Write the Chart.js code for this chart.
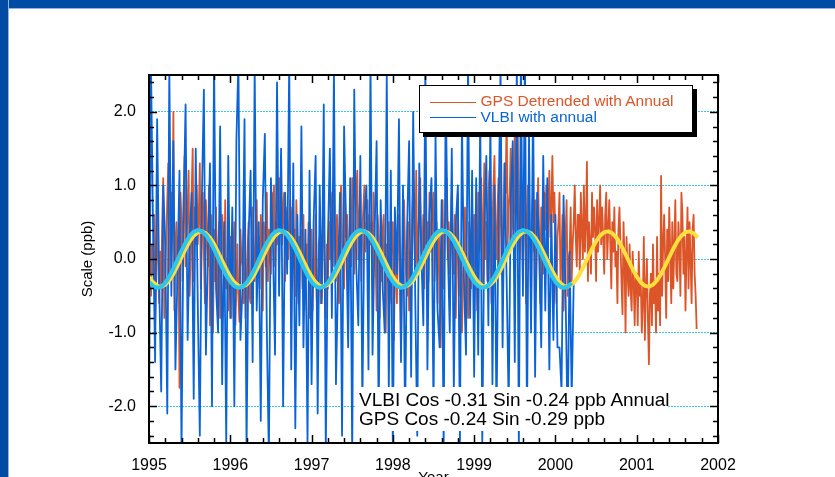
<!DOCTYPE html>
<html lang="en">
<head>
<meta charset="UTF-8">
<title>Scale (ppb)</title>
<script src="https://cdn.jsdelivr.net/npm/chart.js"></script>
<style>
    html, body {
        margin: 0;
        padding: 0;
        background: #fff;
        overflow: hidden;
    }
    body {
        width: 835px;
        height: 477px;
        position: relative;
        font-family: "Liberation Sans", Arial, Helvetica, sans-serif;
    }
    #chart {
        position: absolute;
        left: 0;
        top: 0;
    }
    .band-top {
        position: absolute; left: 0; top: 0;
        width: 835px; height: 8px;
        background: #004ba3;
        border-bottom: 1px solid #8fb5e6;
    }
    .band-left {
        position: absolute; left: 0; top: 0;
        width: 8px; height: 477px;
        background: #004ba3;
        border-right: 1px solid #8fb5e6;
    }
    .legend {
        position: absolute;
        left: 419px; top: 85px;
        width: 274px; height: 48px;
        box-sizing: border-box;
        border: 1.5px solid #000;
        box-shadow: 4px 4px 0 #000;
        background: #fff;
    }
    .legend .swatch {
        position: absolute;
        left: 9.5px;
        width: 46px;
        height: 1.5px;
    }
    .legend .label {
        position: absolute;
        left: 60.5px;
        font-size: 15.5px;
        line-height: 17px;
        white-space: nowrap;
    }
    .note {
        position: absolute;
        left: 355px; top: 387px;
        width: 313px; height: 44px;
        box-sizing: border-box;
        padding: 3px 0 0 4px;
        background: #fff;
        font-size: 19px;
        line-height: 19px;
        color: #000;
        white-space: nowrap;
    }
</style>
</head>
<body>
<canvas id="chart" width="835" height="495"></canvas>
<div class="band-top"></div>
<div class="band-left"></div>
<div class="legend">
    <div class="swatch" id="gpsSwatch" style="top:15.5px"></div>
    <div class="label" id="gpsLabel" style="top:5.5px"></div>
    <div class="swatch" id="vlbiSwatch" style="top:30.5px"></div>
    <div class="label" id="vlbiLabel" style="top:21.5px"></div>
</div>
<div class="note" id="note"></div>

<script>
const startYear = 1995.0;
const gpsStep = 0.0125;   // yr between GPS values
const vlbiStep = 0.025;   // yr between VLBI sessions

// GPS detrended scale (ppb), 1995.0 .. 2001.7375 (one row = a quarter year)
const gpsScale = [
    0.9, 0.3, -0.5, 0.2, -0.2, 0.6, -0.9, -0.3, 0.7, 0.1, -0.6, 0.1, -0.4, 0.5, 1.1, -0.8, -0.2, 0.3, 0.8, 1.3,
    -0.2, 0.6, 0.9, 0.4, 2.0, -0.7, 0.2, 0.5, -0.4, 0.3, -1.75, 0.9, 0.5, -0.3, 0.8, 1.4, -0.1, 0.3, 0.6, 1.2,
    -0.5, 0.1, 0.9, 1.5, -0.3, 0.7, 0.2, 1.0, 0.2, 0.6, 1.3, -0.4, 0.4, 0.9, 0.1, -0.6, 0.8, 0.3, -0.1, 1.0,
    -0.9, 0.6, 0.2, -1.0, 0.4, -0.3, 0.7, -0.6, 0.1, 0.5, -0.8, -0.2, 0.6, 0.3, -0.5, 0.8, -0.4, 0.0, -0.7, 0.2,
    // 1996
    0.3, -0.8, -0.2, 0.1, 0.5, -0.9, -0.4, 0.2, -0.5, -0.85, 0.4, 0.0, -0.1, -0.6, 0.6, -0.8, -0.3, 0.1, 0.5, -0.5,
    -0.6, 0.2, 0.7, 0.0, -0.3, 0.4, 0.8, -0.2, 0.3, -0.4, 0.6, 0.1, -0.7, 0.5, 0.2, -0.1, 0.9, -0.3, 0.4, 0.0,
    -0.2, 0.9, 0.3, 1.0, -0.1, 0.5, 0.2, 0.8, 1.1, 0.4, 1.4, 0.2, 0.7, 0.9, -0.3, 0.5, 0.7, 0.0, 0.4, 0.8,
    -0.3, 0.7, 0.1, 0.4, -0.5, 0.8, 0.2, -0.6, 0.3, 0.1, 0.4, -0.4, 0.6, -0.7, -0.1, 0.2, -0.2, 0.5, -0.8, 0.1,
    // 1997
    0.4, -0.7, 0.0, -0.3, 0.6, -0.5, -1.0, 0.2, 0.3, -0.6, -0.5, 0.4, 0.7, -0.2, -0.8, 0.2, -0.4, 0.5, 0.0, 0.9,
    0.4, -0.1, 1.3, 0.2, -0.3, 0.6, 0.1, -0.6, 0.5, 1.0, 0.2, -0.2, -0.4, 0.8, 0.3, 0.6, -0.5, 0.1, 0.7, -0.1,
    1.1, 0.3, -0.2, 0.5, 0.9, 1.2, 0.0, 0.6, 0.9, -0.3, 0.4, 0.7, 1.0, 0.1, 0.3, 0.8, -0.2, 0.6, 0.2, 0.5,
    -0.4, 0.9, 0.2, 0.0, -0.7, 0.6, 0.3, -0.8, 0.1, -0.3, 0.4, 0.6, -0.5, -1.0, 0.2, -0.3, 0.5, -0.6, -0.1, 0.3,
    // 1998
    0.5, -1.1, -0.2, 0.2, -0.6, 0.4, 0.6, -0.4, -1.2, -0.3, 0.3, 0.8, 0.1, -0.2, -0.5, 0.5, -0.7, 0.1, -0.3, 0.6,
    1.0, 0.4, -0.1, 1.2, -0.2, 0.3, 0.7, 1.1, -0.1, 0.2, 0.6, -0.4, 1.3, 0.2, 0.5, -0.3, 0.9, 0.1, 0.4, 0.7,
    0.9, -0.3, 0.2, 0.5, -0.6, 0.4, 0.1, -1.2, -0.2, 0.8, -0.4, 0.3, 0.6, 1.1, 0.0, 0.5, -0.2, 0.4, 0.9, 0.2,
    -0.2, 0.6, -0.8, 0.3, 0.9, -0.5, 0.1, 0.2, -1.0, -0.3, 0.4, 0.7, -0.6, 0.0, -0.8, 0.5, 0.2, -0.4, 0.6, -0.1,
    // 1999
    0.6, -0.2, 0.3, -0.7, 0.9, 0.1, 0.3, 1.1, -0.4, 0.5, 1.3, 0.0, 0.5, -0.3, 0.8, 1.2, 0.2, -0.6, 0.4, 1.0,
    1.4, 0.3, 0.0, 0.7, 1.1, -0.2, 1.6, 0.6, -0.3, 0.4, 1.3, 0.9, 2.0, 0.2, 0.7, 0.9, 1.5, 0.3, 1.1, 0.4,
    1.8, 0.6, 0.9, 1.66, 0.2, 0.0, 1.2, 0.5, -0.3, 0.8, 1.3, -0.6, 0.4, 1.0, 0.2, 0.4, -0.7, 0.6, 0.9, 0.1,
    0.8, -0.4, 0.5, 1.1, 0.2, -0.6, 0.7, 0.3, -0.2, 0.9, 0.4, 1.0, -0.1, 0.6, 1.2, 0.3, 0.7, 1.4, 0.5, 0.9,
    // 2000
    0.2, -0.6, 0.3, 0.5, 0.9, -0.4, 0.1, 0.6, -0.7, -0.2, 0.3, 0.8, -0.5, 0.0, 0.1, 0.7, -0.3, 0.2, 0.5, 1.0,
    0.3, -0.1, 0.6, 0.6, -0.2, 0.9, 0.4, 0.0, 1.0, 0.1, 0.5, 1.32, -0.3, 0.5, 0.2, -0.2, 0.9, 0.3, 0.7, 0.4,
    -0.3, 0.8, 0.1, 0.5, 1.0, 0.2, 0.7, 0.3, -0.2, 0.6, 0.9, 0.0, 0.4, 0.8, 0.2, -0.4, 0.5, 0.1, 0.7, -0.1,
    0.1, -0.6, 0.4, 0.7, 0.2, -0.3, -0.75, 0.5, 0.0, -1.0, 0.3, -0.2, -0.5, 0.2, -0.4, -0.7, 0.1, -0.3, -0.9, -0.2,
    // 2001
    -0.2, -0.9, 0.1, -0.5, -0.3, -1.0, -0.6, 0.3, -1.1, -0.4, 0.0, -0.8, -1.43, -0.5, -0.2, -0.9, 0.2, -0.6, -0.3, -1.0,
    0.3, -0.7, -0.2, -0.9, 1.13, -0.5, 0.2, 0.6, 0.0, -0.8, 0.4, -0.3, 0.7, 0.1, -0.6, 0.5, -0.4, 0.2, 0.8, -0.2,
    -0.3, 0.5, 0.2, -0.5, 0.9, 0.6, -0.2, 0.3, -0.7, 0.1, 0.7, -0.4, 0.5, 0.0, -0.6, 0.4, 0.6, -0.2, -0.5, -0.95
];

// VLBI scale (ppb), 1995.0 .. 2000.225 (one row = half a year)
const vlbiScale = [
    -2.3, 2.6, 0.4, -1.4, 1.9, -0.3, -1.8, 1.0, 0.2, -2.1, 2.6, -0.5, 1.6, -1.5, -0.2, 1.2, -2.6, 0.6, 2.1, -1.1,
    0.3, 0.9, -1.9, 1.5, -0.6, -2.4, 0.8, 2.3, -1.3, 0.1, 1.3, -2.0, 2.7, -0.4, -1.0, 1.8, -1.7, 0.5, -2.5, 1.4,
    -0.8, 0.7, -2.0, 1.6, 2.7, -1.1, -0.4, 1.9, -2.6, 0.3, 1.2, -1.4, 2.6, -0.7, 0.5, -2.2, 0.8, 1.7, -1.0, -2.7,
    1.1, 0.2, -1.3, 2.4, -0.5, 1.5, -2.0, 0.9, -0.2, 2.7, -1.5, 1.3, -2.3, 0.6, -0.9, 1.8, -1.2, 0.4, -2.5, 1.2,
    -1.7, 0.5, 1.4, -2.1, 1.0, -0.6, 2.1, -2.6, 0.2, 1.5, -0.8, 2.6, -1.7, -0.3, 0.9, -2.4, 1.8, 0.4, -1.2, 1.1,
    -2.7, 2.3, -0.1, -0.9, 1.4, -2.0, 0.6, 1.0, -1.5, 2.7, -1.3, 0.3, 1.6, -2.2, 0.8, -0.4, -1.0, 2.5, -1.8, 1.2,
    -2.6, 0.7, -0.2, 1.9, -1.4, 1.0, -2.3, 0.4, 1.6, -1.6, 2.0, -0.5, -2.4, 1.3, 0.1, -0.9, 2.6, -1.5, 0.6, 1.1,
    -2.1, 1.7, -0.7, -1.2, 0.8, -2.6, 2.3, 0.2, -1.0, 1.5, -1.8, 0.5, 1.0, -2.5, 1.9, -0.3, -1.3, 2.7, -0.8, 1.2,
    -1.6, 1.1, -1.3, 2.0, -2.5, 0.4, 1.4, -0.9, 1.9, -1.7, 1.0, -2.2, 0.6, 2.6, -1.2, 1.3, -0.3, -2.0, 0.8, 1.6,
    -1.4, 2.7, -2.6, 2.8, -0.5, 2.9, -2.3, 1.7, -1.0, 2.2, -1.6, 0.9, 0.2, -1.2, 1.4, -0.7, 1.1, -1.5, 0.6, -1.1,
    0.6, -1.2, -1.2, -1.8, 0.86, -0.5, -2.3, 0.1, -1.9, -0.3
];

// annual terms (ppb) as printed on the plot
const vlbiCos = -0.31, vlbiSin = -0.24;
const gpsCos = -0.24, gpsSin = -0.29;
const vlbiFitEnd = 2000.2;
const gpsFitEnd = 2001.75;
const fitStep = 0.05;

const gpsColor = '#dc5529';
const vlbiColor = '#0a64d8';
const gpsFitColor = '#ffdf3c';
const vlbiFitColor = '#2dc6ea';
const gpsName = 'GPS Detrended with Annual';
const vlbiName = 'VLBI with annual';

function toPoints(values, step) {
    return values.map((v, i) => ({ x: startYear + i * step, y: v }));
}

function annualCurve(c, s, endYear) {
    const pts = [];
    const n = Math.round((endYear - startYear) / fitStep);
    for (let i = 0; i <= n; i++) {
        const t = startYear + i * fitStep;
        const w = 2 * Math.PI * t;
        pts.push({ x: t, y: c * Math.cos(w) + s * Math.sin(w) });
    }
    return pts;
}

// legend + annotation
document.getElementById('gpsSwatch').style.background = gpsColor;
document.getElementById('vlbiSwatch').style.background = vlbiColor;
const gpsLabel = document.getElementById('gpsLabel');
gpsLabel.textContent = gpsName;
gpsLabel.style.color = gpsColor;
const vlbiLabel = document.getElementById('vlbiLabel');
vlbiLabel.textContent = vlbiName;
vlbiLabel.style.color = vlbiColor;
document.getElementById('note').innerHTML =
    'VLBI Cos ' + vlbiCos.toFixed(2) + ' Sin ' + vlbiSin.toFixed(2) + ' ppb Annual<br>' +
    'GPS Cos ' + gpsCos.toFixed(2) + ' Sin ' + gpsSin.toFixed(2) + ' ppb';

const isWhole = v => Math.abs(v - Math.round(v)) < 1e-6;

// inward ticks on all four sides plus the plot frame
const frameTicks = {
    id: 'frameTicks',
    afterDatasetsDraw(chart) {
        const { ctx, chartArea: a, scales: { x, y } } = chart;
        ctx.save();
        ctx.strokeStyle = '#000';
        ctx.lineWidth = 1.5;
        ctx.beginPath();
        for (let i = 0; i <= 35; i++) {
            const px = Math.round(x.getPixelForValue(1995 + i * 0.2)) + 0.5;
            const len = i % 5 === 0 ? 8 : 5;
            ctx.moveTo(px, a.bottom); ctx.lineTo(px, a.bottom - len);
            ctx.moveTo(px, a.top); ctx.lineTo(px, a.top + len);
        }
        for (let j = 0; j <= 24; j++) {
            const v = -2.4 + j * 0.2;
            const py = Math.round(y.getPixelForValue(v)) + 0.5;
            const len = isWhole(v) ? 8 : 5;
            ctx.moveTo(a.left, py); ctx.lineTo(a.left + len, py);
            ctx.moveTo(a.right, py); ctx.lineTo(a.right - len, py);
        }
        ctx.stroke();
        ctx.lineWidth = 2;
        ctx.strokeRect(a.left, a.top, a.right - a.left, a.bottom - a.top);
        ctx.restore();
    }
};

new Chart(document.getElementById('chart'), {
    type: 'line',
    data: {
        datasets: [
            {
                label: 'VLBI annual',
                data: annualCurve(vlbiCos, vlbiSin, vlbiFitEnd),
                borderColor: vlbiFitColor,
                borderWidth: 4,
                order: 1
            },
            {
                label: 'GPS annual',
                data: annualCurve(gpsCos, gpsSin, gpsFitEnd),
                borderColor: gpsFitColor,
                borderWidth: 4,
                order: 2
            },
            {
                label: vlbiName,
                data: toPoints(vlbiScale, vlbiStep),
                borderColor: vlbiColor,
                borderWidth: 1.8,
                order: 3
            },
            {
                label: gpsName,
                data: toPoints(gpsScale, gpsStep),
                borderColor: gpsColor,
                borderWidth: 1.8,
                order: 4
            }
        ]
    },
    options: {
        responsive: false,
        animation: false,
        clip: 0,
        elements: {
            point: { radius: 0 },
            line: { tension: 0, borderJoinStyle: 'round' }
        },
        layout: { padding: { left: 0, top: 75, right: 117, bottom: 0 } },
        plugins: {
            legend: { display: false },
            tooltip: { enabled: false }
        },
        scales: {
            x: {
                type: 'linear',
                min: 1995,
                max: 2002,
                border: { display: false },
                grid: { display: false, drawTicks: false },
                ticks: {
                    stepSize: 1,
                    padding: 13,
                    color: '#000',
                    maxRotation: 0,
                    autoSkip: false,
                    font: { size: 16, family: '"Liberation Sans", Arial, sans-serif' },
                    callback: v => String(v)
                },
                title: {
                    display: true,
                    text: 'Year',
                    color: '#000',
                    font: { size: 15, family: '"Liberation Sans", Arial, sans-serif' },
                    padding: { top: 0, bottom: 8 }
                },
                afterFit: s => { s.height = 52; }
            },
            y: {
                min: -2.5,
                max: 2.5,
                border: { display: false, dash: [2, 1] },
                grid: {
                    drawTicks: false,
                    lineWidth: 1,
                    color: c => isWhole(c.tick.value) ? '#3cc4ea' : 'rgba(0,0,0,0)'
                },
                ticks: {
                    stepSize: 0.5,
                    padding: 13,
                    color: '#000',
                    autoSkip: false,
                    font: { size: 16, family: '"Liberation Sans", Arial, sans-serif' },
                    callback: v => isWhole(v) ? v.toFixed(1) : ''
                },
                title: {
                    display: true,
                    text: 'Scale (ppb)',
                    color: '#000',
                    font: { size: 15, family: '"Liberation Sans", Arial, sans-serif' },
                    padding: { top: 79, bottom: 0 }
                },
                afterFit: s => { s.width = 149; }
            }
        }
    },
    plugins: [frameTicks]
});
</script>
</body>
</html>
